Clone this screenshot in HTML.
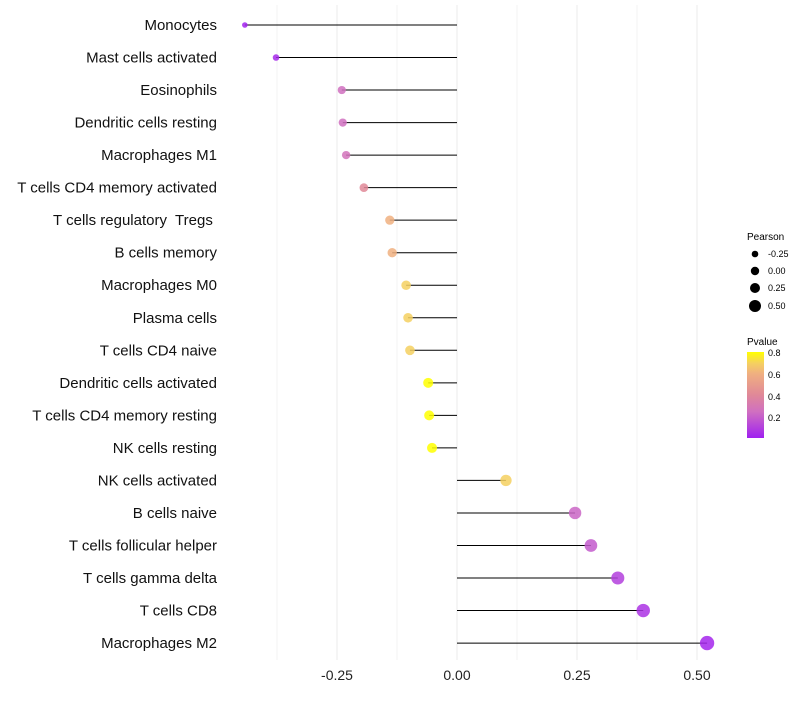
<!DOCTYPE html>
<html><head><meta charset="utf-8"><style>
body{margin:0;background:#fff;font-family:"Liberation Sans",sans-serif}
</style></head><body>
<svg id="c" width="800" height="700" xmlns="http://www.w3.org/2000/svg">
<defs><linearGradient id="pg" x1="0" y1="1" x2="0" y2="0">
<stop offset="0" stop-color="#a020f0"/><stop offset="0.31" stop-color="#d070c0"/><stop offset="0.5" stop-color="#e08898"/><stop offset="0.75" stop-color="#f0b080"/><stop offset="0.87" stop-color="#f5d060"/><stop offset="1" stop-color="#ffff00"/></linearGradient></defs>
<g id="grid"></g><g id="marks"></g><g id="labels"></g>
<g font-size="9">
<text x="747" y="240" font-size="10">Pearson</text>
<circle cx="755" cy="254" r="3.3"/><text x="768" y="257">-0.25</text>
<circle cx="755" cy="271" r="4.2"/><text x="768" y="274">0.00</text>
<circle cx="755" cy="288" r="5"/><text x="768" y="291">0.25</text>
<circle cx="755" cy="306" r="6"/><text x="768" y="309">0.50</text>
</g>
<g font-size="9">
<text x="747" y="345" font-size="10">Pvalue</text>
<rect x="747" y="352" width="17" height="86" fill="url(#pg)"/>
<text x="768" y="356">0.8</text><text x="768" y="378">0.6</text><text x="768" y="400">0.4</text><text x="768" y="421">0.2</text>
</g>
</svg>
<script>
const categories=["Monocytes","Mast cells activated","Eosinophils","Dendritic cells resting","Macrophages M1","T cells CD4 memory activated","T cells regulatory  Tregs ","B cells memory","Macrophages M0","Plasma cells","T cells CD4 naive","Dendritic cells activated","T cells CD4 memory resting","NK cells resting","NK cells activated","B cells naive","T cells follicular helper","T cells gamma delta","T cells CD8","Macrophages M2"];
const pearson=[-0.442,-0.377,-0.24,-0.238,-0.231,-0.194,-0.14,-0.135,-0.106,-0.102,-0.098,-0.06,-0.058,-0.052,0.102,0.246,0.279,0.335,0.388,0.521];
const pvalue=[0.01,0.03,0.25,0.25,0.27,0.4,0.6,0.6,0.7,0.7,0.7,0.82,0.82,0.82,0.7,0.22,0.18,0.1,0.06,0.02];
const ticks=[-0.25,0,0.25,0.5];
const tickLabels=["-0.25","0.00","0.25","0.50"];
const NS="http://www.w3.org/2000/svg";
const xs=v=>457+v*480, ys=i=>25+i*32.53;
function mk(t,a,p){const e=document.createElementNS(NS,t);for(const k in a)e.setAttribute(k,a[k]);p.appendChild(e);return e;}
const stops=[[0,[160,32,240]],[0.25,[208,112,192]],[0.4,[224,136,152]],[0.6,[240,176,128]],[0.7,[245,208,96]],[0.8,[255,255,0]]];
function col(p){p=Math.max(0,Math.min(0.8,p));for(let i=1;i<stops.length;i++){if(p<=stops[i][0]){const a=stops[i-1],b=stops[i],t=(p-a[0])/(b[0]-a[0]);return "rgb("+a[1].map((c,j)=>Math.round(c+(b[1][j]-c)*t)).join(",")+")";}}return "rgb(255,255,0)";}
const g=document.getElementById('grid'),m=document.getElementById('marks'),l=document.getElementById('labels');
for(let v=-0.375;v<=0.51;v+=0.125){const gl=mk('line',{x1:xs(v),x2:xs(v),y1:5,y2:660,stroke:'#ebebeb','stroke-width':Math.abs(v*4-Math.round(v*4))<1e-6?1:0.6},g);

}
ticks.forEach((t,i)=>{const tx=mk('text',{x:xs(t),y:680,'text-anchor':'middle','font-size':14,fill:'#222'},l);tx.textContent=tickLabels[i];

});
categories.forEach((c,i)=>{const y=ys(i);
const tx=mk('text',{x:217,y:y+5,'text-anchor':'end','font-size':15,fill:'#111',style:'white-space:pre'},l);tx.textContent=c;


const ln=mk('line',{x1:xs(0),x2:xs(pearson[i]),y1:y,y2:y,stroke:'#000','stroke-width':1},m);


const r=Math.sqrt(Math.max(3,27.7+45*pearson[i]));
const d=mk('circle',{cx:xs(pearson[i]),cy:y,r:r,fill:col(pvalue[i]),'fill-opacity':0.85},m);

});
</script>
</body></html>
